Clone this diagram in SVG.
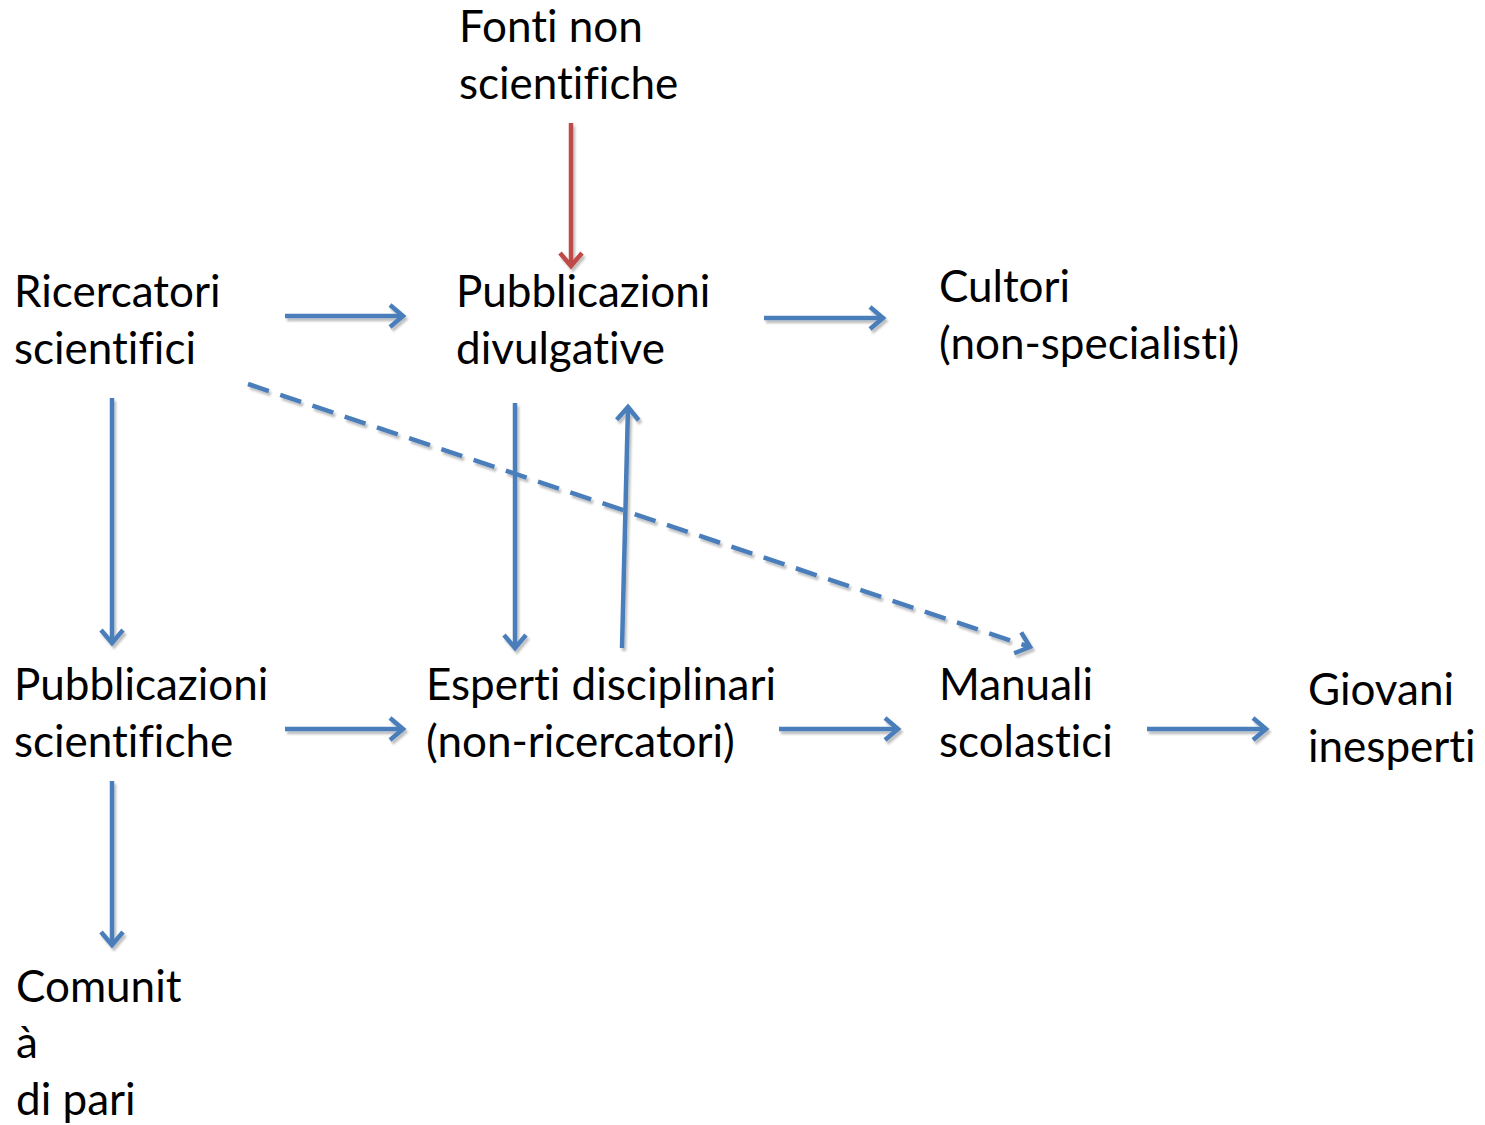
<svg xmlns="http://www.w3.org/2000/svg" width="1485" height="1125" viewBox="0 0 1485 1125">
<style>
text{font-family:Lato,"Noto Sans",sans-serif;font-size:44px;fill:#000;font-variant-ligatures:none;font-feature-settings:"liga" 0}
.a{stroke:#4A7EBB;stroke-width:4.5;fill:none;marker-end:url(#hb)}
.r{stroke:#BE4B48;stroke-width:4.5;fill:none;marker-end:url(#hr)}
.d{stroke-dasharray:22 12}
</style>
<defs>
<filter id="sh" x="-10%" y="-10%" width="120%" height="130%"><feDropShadow dx="2" dy="3" stdDeviation="1" flood-color="#000" flood-opacity="0.25"/></filter>
<marker id="hb" markerUnits="userSpaceOnUse" viewBox="-20 -15 25 30" refX="0" refY="0" markerWidth="25" markerHeight="30" orient="auto" overflow="visible"><path d="M-13,-11 L0,0 L-13,11" fill="none" stroke="#4A7EBB" stroke-width="4.5"/></marker>
<marker id="hr" markerUnits="userSpaceOnUse" viewBox="-20 -15 25 30" refX="0" refY="0" markerWidth="25" markerHeight="30" orient="auto" overflow="visible"><path d="M-13,-11 L0,0 L-13,11" fill="none" stroke="#BE4B48" stroke-width="4.5"/></marker>
</defs>
<g id="connectors" filter="url(#sh)">
<line class="r" x1="571" y1="123" x2="571" y2="266"/>
<line class="a" x1="285" y1="316" x2="403" y2="316"/>
<line class="a" x1="764" y1="318" x2="883" y2="318"/>
<line class="a" x1="112" y1="398" x2="112" y2="643"/>
<line class="a" x1="515" y1="403" x2="515" y2="648"/>
<line class="a" x1="622" y1="648" x2="628" y2="407"/>
<line class="a d" x1="248" y1="384" x2="1030" y2="647"/>
<line class="a" x1="285" y1="729" x2="403" y2="729"/>
<line class="a" x1="779" y1="729" x2="898" y2="729"/>
<line class="a" x1="1147" y1="729" x2="1266" y2="729"/>
<line class="a" x1="112" y1="781" x2="112" y2="945"/>
</g>
<g id="fonti"><text x="459" y="42">Fonti non</text><text x="459" y="99">scientifiche</text></g>
<g id="ricercatori"><text x="14" y="307">Ricercatori</text><text x="14" y="364">scientifici</text></g>
<g id="pubdiv"><text x="456" y="307">Pubblicazioni</text><text x="456" y="364">divulgative</text></g>
<g id="cultori"><text x="939" y="302">Cultori</text><text x="939" y="359">(non-specialisti)</text></g>
<g id="pubsci"><text x="14" y="700">Pubblicazioni</text><text x="14" y="757">scientifiche</text></g>
<g id="esperti"><text x="426" y="700">Esperti disciplinari</text><text x="426" y="757">(non-ricercatori)</text></g>
<g id="manuali"><text x="939" y="700">Manuali</text><text x="939" y="757">scolastici</text></g>
<g id="giovani"><text x="1308" y="705">Giovani</text><text x="1308" y="762">inesperti</text></g>
<g id="comunita"><text x="16" y="1002">Comunit</text><text x="16" y="1058">à</text><text x="16" y="1115">di pari</text></g>
</svg>
